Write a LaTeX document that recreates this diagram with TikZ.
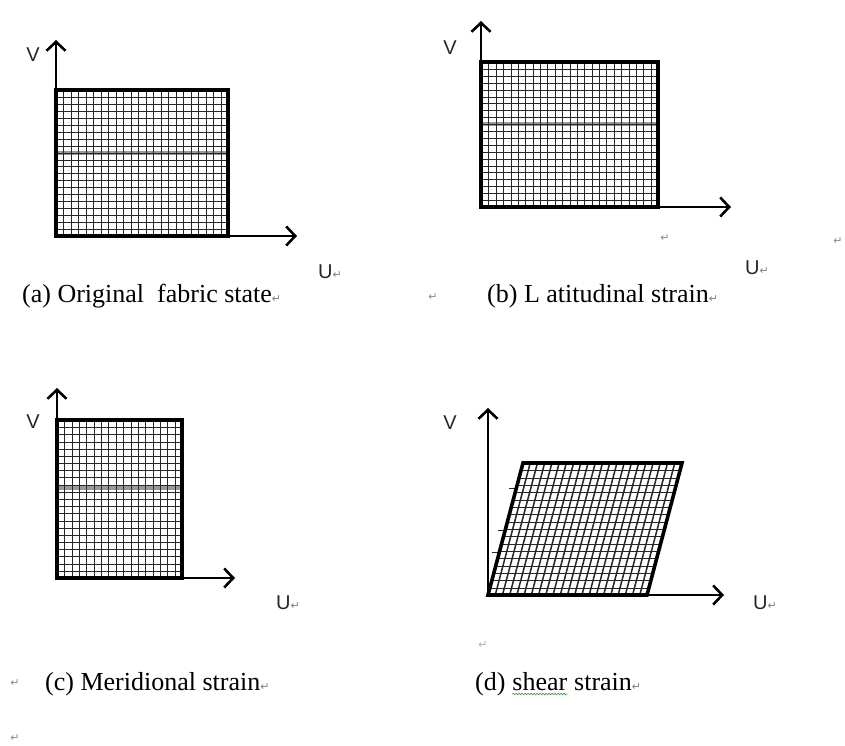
\documentclass[tikz,border=0pt]{standalone}
\usepackage{fontspec}
\setmainfont{Liberation Serif}
\newfontfamily\axfont{Liberation Sans}
\newfontfamily\symfont{DejaVu Sans}
\usetikzlibrary{arrows.meta,decorations.pathmorphing}
\newcommand\retmk{{\symfont\fontsize{11}{11}\selectfont\textcolor{black!50}{↵}}}
\begin{document}
\begin{tikzpicture}[x=1pt,y=-1pt,
  gridln/.style={line width=1.8pt,black!85},
  bandln/.style={line width=4pt,black!40},
  outline/.style={line width=3.6pt,line join=miter},
  axis/.style={line width=2.6pt,-{Straight Barb[length=9pt,width=19pt]}},
  axlbl/.style={font=\axfont\fontsize{20}{20}\selectfont,text=black!85,inner sep=0pt},
  captxt/.style={font=\fontsize{26}{26}\selectfont,inner sep=0pt,anchor=base west,text=black},
  retm/.style={font=\symfont\fontsize{11}{11}\selectfont,text=black!45,inner sep=0pt},
  spell/.style={draw=green!45!black,opacity=0.7,line width=0.7pt,decorate,decoration={snake,amplitude=0.8pt,segment length=3pt}}]
\useasboundingbox[fill=white] (0,0) rectangle (845,746);

% ---------- (a) original
\coordinate (oa) at (56,236);
\coordinate (ya) at (56,40);
\coordinate (xa) at (297,236);
\draw[bandln] (56,153) -- (228,153);
\foreach \i in {1,...,22} \draw[gridln] ({round(56+\i*172/23)+0.5},90) -- ++(0,146);
\foreach \j in {1,...,20} \draw[gridln] (56,{round(90+\j*146/21)+0.5}) -- ++(172,0);
\draw[outline] (56,90) rectangle (228,236);
\draw[axis] (oa) -- (ya);
\draw[axis] (oa) -- (xa);
\node[axlbl] (va) at (33,55) {V};
\node[axlbl,anchor=west] (ua) at (318,272) {U\retmk};
\node[captxt] (capa) at (22,302) {(a) Original\ \ fabric state\retmk};

% ---------- (b) latitudinal
\coordinate (ob) at (481,207);
\coordinate (yb) at (481,21);
\coordinate (xb) at (731,207);
\draw[bandln] (481,124) -- (658,124);
\foreach \i in {1,...,23} \draw[gridln] ({round(481+\i*177/24)+0.5},62) -- ++(0,145);
\foreach \j in {1,...,20} \draw[gridln] (481,{round(62+\j*145/21)+0.5}) -- ++(177,0);
\draw[outline] (481,62) rectangle (658,207);
\draw[axis] (ob) -- (yb);
\draw[axis] (ob) -- (xb);
\node[axlbl] (vb) at (450,48) {V};
\node[retm] (rb1) at (665,238) {↵};
\node[retm] (rb2) at (838,241) {↵};
\node[axlbl,anchor=west] (ub) at (745,268) {U\retmk};
\node[retm] (rb3) at (433,297) {↵};
\node[captxt] (capb) at (487,302) {(b) L atitudinal strain\retmk};

% ---------- (c) meridional
\coordinate (oc) at (57,578);
\coordinate (yc) at (57,388);
\coordinate (xc) at (235,578);
\draw[bandln] (57,488) -- (182,488);
\foreach \i in {1,...,16} \draw[gridln] ({round(57+\i*125/17)+0.5},420) -- ++(0,158);
\foreach \j in {1,...,21} \draw[gridln] (57,{round(420+\j*158/22)+0.5}) -- ++(125,0);
\draw[outline] (57,420) rectangle (182,578);
\draw[axis] (oc) -- (yc);
\draw[axis] (oc) -- (xc);
\node[axlbl] (vc) at (33,422) {V};
\node[axlbl,anchor=west] (uc) at (276,603) {U\retmk};
\node[retm] (rc) at (15,683) {↵};
\node[captxt] (capc) at (45,690) {(c) Meridional strain\retmk};

% ---------- (d) shear
\coordinate (od) at (488,595);
\coordinate (yd) at (488,408);
\coordinate (xd) at (724,595);
\foreach \j in {1,...,17} {
  \pgfmathsetmacro\yy{round(463+\j*132/18)+0.5}
  \pgfmathsetmacro\xl{488+(595-\yy)*35/132}
  \pgfmathsetmacro\xr{647+(595-\yy)*35/132}
  \draw[gridln] (\xl,\yy) -- (\xr,\yy);
}
\foreach \i in {1,...,21} {
  \pgfmathsetmacro\xb{488+\i*159/22}
  \draw[gridln,line width=1.5pt] (\xb,595) -- ({\xb+35},463);
}
\foreach \yy in {488,530,552} {
  \pgfmathsetmacro\xl{488+(595-\yy)*35/132}
  \draw[gridln,line width=1pt] ({\xl-7},\yy) -- (\xl,\yy);
}
\draw[outline] (488,595) -- (647,595) -- (682,463) -- (523,463) -- cycle;
\draw[axis] (od) -- (yd);
\draw[axis] (od) -- (xd);
\node[axlbl] (vd) at (450,423) {V};
\node[axlbl,anchor=west] (ud) at (753,603) {U\retmk};
\node[retm,text=black!30] (rd) at (483,645) {↵};
\node[captxt] (capd1) at (475,690) {(d)};
\node[captxt,anchor=base west] (capd2) at ([xshift=6.5pt]capd1.base east) {shear};
\node[captxt,anchor=base west] (capd3) at ([xshift=6.5pt]capd2.base east) {strain\retmk};
\draw[spell] ([yshift=-4pt]capd2.base west) -- ([yshift=-4pt]capd2.base east);

% ---------- trailing mark
\node[retm] (rend) at (15,738) {↵};
\end{tikzpicture}
\end{document}
